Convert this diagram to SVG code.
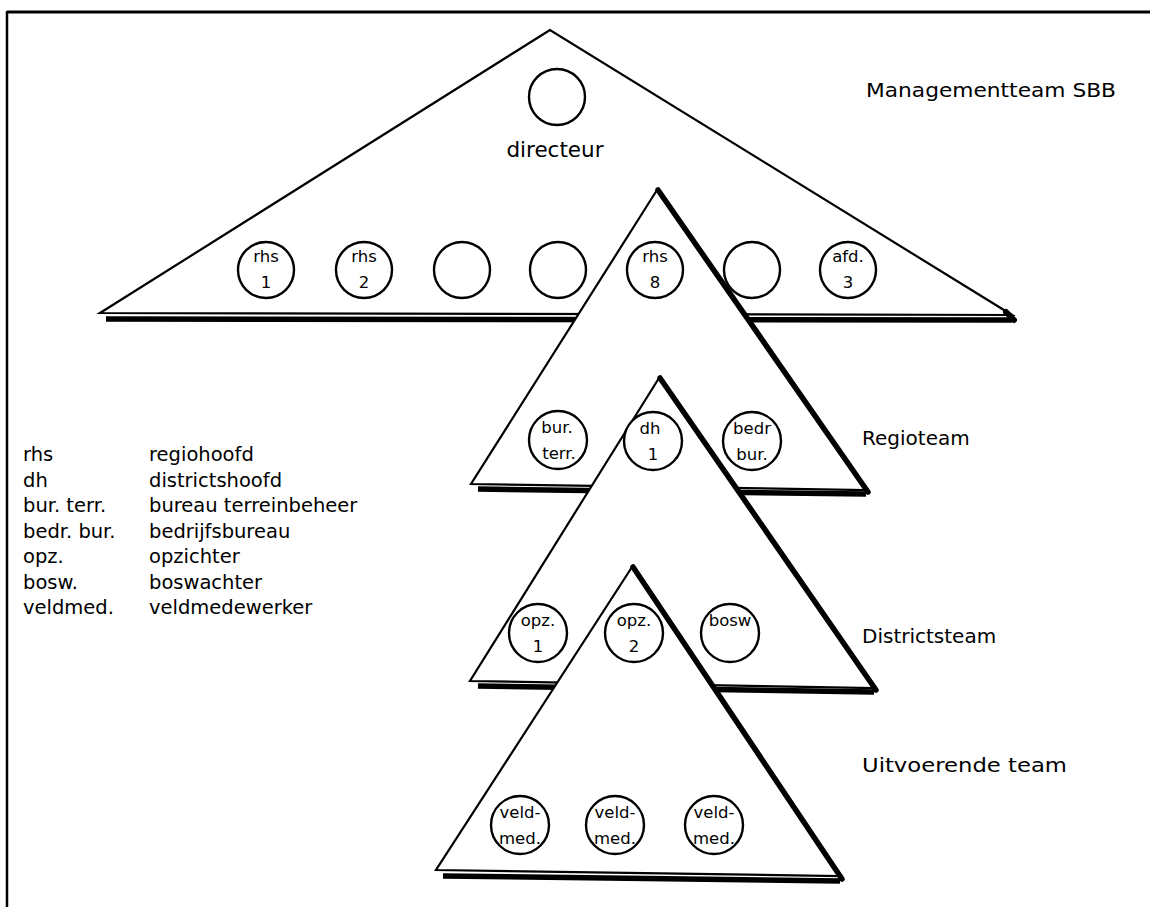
<svg xmlns="http://www.w3.org/2000/svg" width="1150" height="907" viewBox="0 0 1150 907">
<style>
.bg{fill:#fff}
.frame{stroke:#000;stroke-width:2.5;fill:none}
.tri{fill:#fff;stroke:#000;stroke-width:2.2;stroke-linejoin:miter}
.thick{stroke:#000;stroke-width:5.5;stroke-linecap:round;fill:none}
.band{stroke:#000;stroke-width:5.5;fill:none}
.c{fill:#fff;stroke:#000;stroke-width:2.4}
text{font-family:"DejaVu Sans","Liberation Sans",sans-serif;fill:#000}
.cl{font-size:16.5px;text-anchor:middle}
.lbl{font-size:20px}
.leg{font-size:19.5px}
</style>
<rect class="bg" x="0" y="0" width="1150" height="907"/>
<g id="frame">
<line class="frame" x1="7" y1="12" x2="1150" y2="12" style="stroke-width:3"/>
<line class="frame" x1="7" y1="11" x2="7" y2="907"/>
</g>
<g id="team-management">
<path class="band" d="M106,319 L1012,320"/>
<polygon class="tri" points="550,30 100,313 1012,315"/>
<path class="thick" d="M1006,312 L1014,320" style="stroke-width:6"/>
</g>
<g id="team-regio">
<path class="band" d="M478,489 L866,494"/>
<polygon class="tri" points="657,190 471,484 866,490"/>
<line class="thick" x1="658" y1="190" x2="868" y2="492"/>
</g>
<g id="nodes-management">
<g id="directeur"><circle class="c" cx="557" cy="97" r="28"/><text class="lbl" x="555" y="157" text-anchor="middle" style="font-size:21.5px">directeur</text></g>
<g id="rhs1"><circle class="c" cx="266" cy="270" r="28"/><text class="cl" x="266" y="262">rhs</text><text class="cl" x="266" y="288">1</text></g>
<g id="rhs2"><circle class="c" cx="364" cy="270" r="28"/><text class="cl" x="364" y="262">rhs</text><text class="cl" x="364" y="288">2</text></g>
<g id="m3"><circle class="c" cx="462" cy="270" r="28"/></g>
<g id="m4"><circle class="c" cx="558" cy="270" r="28"/></g>
<g id="rhs8"><circle class="c" cx="655" cy="270" r="28"/><text class="cl" x="655" y="262">rhs</text><text class="cl" x="655" y="288">8</text></g>
<g id="m6"><circle class="c" cx="752" cy="270" r="28"/></g>
<g id="afd3"><circle class="c" cx="848" cy="270" r="28"/><text class="cl" x="848" y="262">afd.</text><text class="cl" x="848" y="288">3</text></g>
</g>
<g id="team-district">
<path class="band" d="M478,686 L874,692"/>
<polygon class="tri" points="659,378 470,681 874,688"/>
<line class="thick" x1="660" y1="378" x2="876" y2="690"/>
</g>
<g id="nodes-regio">
<g id="burterr"><circle class="c" cx="558" cy="440" r="29"/><text class="cl" x="557" y="433">bur.</text><text class="cl" x="559" y="459">terr.</text></g>
<g id="dh1"><circle class="c" cx="653" cy="441" r="29"/><text class="cl" x="650" y="434">dh</text><text class="cl" x="653" y="460">1</text></g>
<g id="bedrbur"><circle class="c" cx="752" cy="441" r="29"/><text class="cl" x="752" y="434">bedr</text><text class="cl" x="752" y="460">bur.</text></g>
</g>
<g id="team-uitvoerend">
<path class="band" d="M443,876 L840,881"/>
<polygon class="tri" points="632,567 436,870 840,876"/>
<line class="thick" x1="633" y1="567" x2="842" y2="879"/>
</g>
<g id="nodes-district">
<g id="opz1"><circle class="c" cx="538" cy="633" r="29"/><text class="cl" x="538" y="626">opz.</text><text class="cl" x="538" y="652">1</text></g>
<g id="opz2"><circle class="c" cx="634" cy="633" r="29"/><text class="cl" x="634" y="626">opz.</text><text class="cl" x="634" y="652">2</text></g>
<g id="bosw"><circle class="c" cx="730" cy="633" r="29"/><text class="cl" x="730" y="626">bosw</text></g>
</g>
<g id="nodes-uitvoerend">
<g id="vm1"><circle class="c" cx="520" cy="825" r="29"/><text class="cl" x="520" y="818">veld-</text><text class="cl" x="520" y="844">med.</text></g>
<g id="vm2"><circle class="c" cx="615" cy="825" r="29"/><text class="cl" x="615" y="818">veld-</text><text class="cl" x="615" y="844">med.</text></g>
<g id="vm3"><circle class="c" cx="714" cy="825" r="29"/><text class="cl" x="714" y="818">veld-</text><text class="cl" x="714" y="844">med.</text></g>
</g>
<g id="labels">
<text class="lbl" x="866" y="97" textLength="250" lengthAdjust="spacingAndGlyphs">Managementteam SBB</text>
<text class="lbl" x="862" y="445">Regioteam</text>
<text class="lbl" x="862" y="643">Districtsteam</text>
<text class="lbl" x="862" y="772" textLength="205" lengthAdjust="spacingAndGlyphs">Uitvoerende team</text>
</g>
<g id="legend">
<text class="leg" x="23" y="461">rhs</text><text class="leg" x="149" y="461">regiohoofd</text>
<text class="leg" x="23" y="487">dh</text><text class="leg" x="149" y="487">districtshoofd</text>
<text class="leg" x="23" y="512">bur. terr.</text><text class="leg" x="149" y="512">bureau terreinbeheer</text>
<text class="leg" x="23" y="538">bedr. bur.</text><text class="leg" x="149" y="538">bedrijfsbureau</text>
<text class="leg" x="23" y="563">opz.</text><text class="leg" x="149" y="563">opzichter</text>
<text class="leg" x="23" y="589">bosw.</text><text class="leg" x="149" y="589">boswachter</text>
<text class="leg" x="23" y="614">veldmed.</text><text class="leg" x="149" y="614">veldmedewerker</text>
</g>
</svg>
